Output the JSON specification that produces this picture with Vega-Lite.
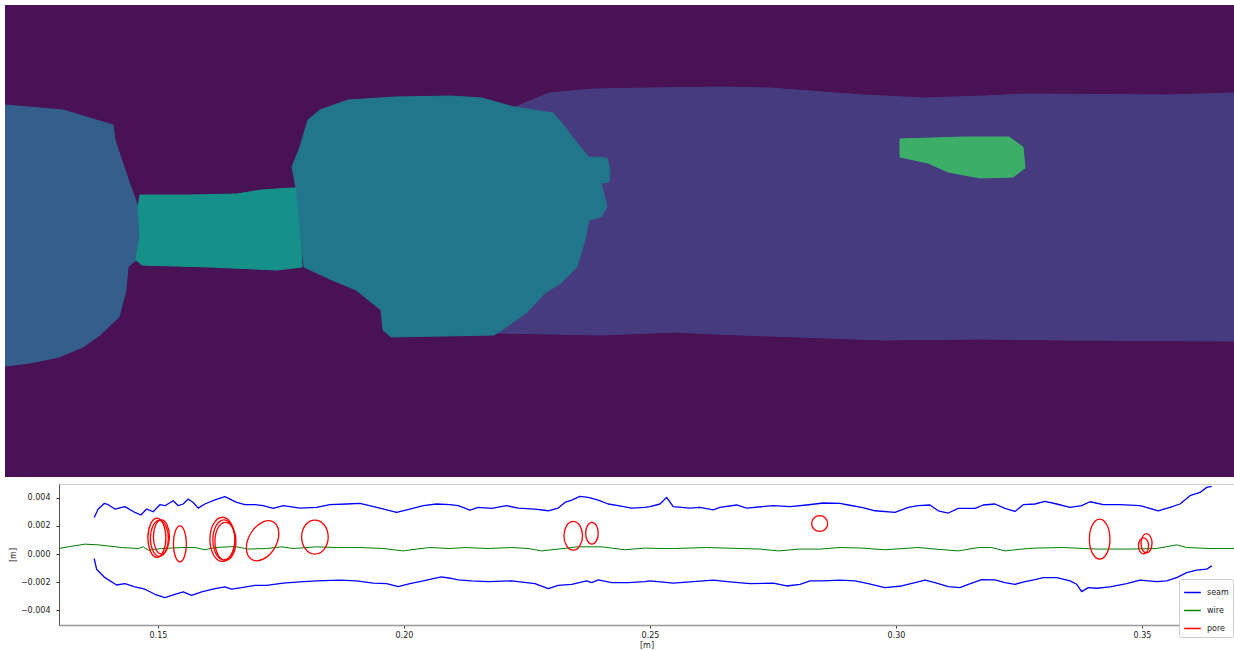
{
"$schema": "https://vega.github.io/schema/vega-lite/v6.json",
"background": "white",
"padding": {"left": 5, "top": 5, "right": 0, "bottom": 0},
"config": {"font": "DejaVu Sans", "view": {"stroke": null}, "line": {"strokeJoin": "round"}},
"columns": 1,
"spacing": 6,
"resolve": {"scale": {"x": "independent", "y": "independent", "color": "independent"}},
"datasets": {
"regions": [
{"r":"bg","i":0,"px":5,"py":5},{"r":"bg","i":1,"px":1234,"py":5},{"r":"bg","i":2,"px":1234,"py":477},{"r":"bg","i":3,"px":5,"py":477},
{"r":"band","i":0,"px":508,"py":110},{"r":"band","i":1,"px":549,"py":93},{"r":"band","i":2,"px":593,"py":89},{"r":"band","i":3,"px":650,"py":88},{"r":"band","i":4,"px":721,"py":87},{"r":"band","i":5,"px":770,"py":88},{"r":"band","i":6,"px":863,"py":95},{"r":"band","i":7,"px":924,"py":98},{"r":"band","i":8,"px":985,"py":96},{"r":"band","i":9,"px":1025,"py":94},{"r":"band","i":10,"px":1167,"py":95},{"r":"band","i":11,"px":1234,"py":93},{"r":"band","i":12,"px":1234,"py":341},{"r":"band","i":13,"px":1065,"py":340},{"r":"band","i":14,"px":980,"py":339},{"r":"band","i":15,"px":883,"py":340},{"r":"band","i":16,"px":713,"py":334},{"r":"band","i":17,"px":677,"py":332},{"r":"band","i":18,"px":600,"py":335},{"r":"band","i":19,"px":498,"py":333},
{"r":"left","i":0,"px":5.5,"py":105},{"r":"left","i":1,"px":63,"py":110},{"r":"left","i":2,"px":113,"py":125},{"r":"left","i":3,"px":115,"py":140},{"r":"left","i":4,"px":126,"py":173},{"r":"left","i":5,"px":138,"py":207},{"r":"left","i":6,"px":140,"py":235},{"r":"left","i":7,"px":136,"py":260},{"r":"left","i":8,"px":128,"py":267},{"r":"left","i":9,"px":126,"py":290},{"r":"left","i":10,"px":119,"py":317},{"r":"left","i":11,"px":100,"py":335},{"r":"left","i":12,"px":83,"py":347},{"r":"left","i":13,"px":59,"py":357},{"r":"left","i":14,"px":30,"py":363},{"r":"left","i":15,"px":5.5,"py":366},
{"r":"rect","i":0,"px":138,"py":207},{"r":"rect","i":1,"px":140,"py":195},{"r":"rect","i":2,"px":190,"py":195},{"r":"rect","i":3,"px":237,"py":194},{"r":"rect","i":4,"px":261,"py":190},{"r":"rect","i":5,"px":292,"py":188},{"r":"rect","i":6,"px":297,"py":188},{"r":"rect","i":7,"px":299,"py":200},{"r":"rect","i":8,"px":302,"py":267},{"r":"rect","i":9,"px":277,"py":270},{"r":"rect","i":10,"px":209,"py":267},{"r":"rect","i":11,"px":142,"py":265},{"r":"rect","i":12,"px":136,"py":260},{"r":"rect","i":13,"px":140,"py":235},
{"r":"mid","i":0,"px":308,"py":120},{"r":"mid","i":1,"px":320,"py":110},{"r":"mid","i":2,"px":348,"py":100},{"r":"mid","i":3,"px":395,"py":97},{"r":"mid","i":4,"px":451,"py":96},{"r":"mid","i":5,"px":482,"py":98},{"r":"mid","i":6,"px":514,"py":107},{"r":"mid","i":7,"px":553,"py":113},{"r":"mid","i":8,"px":565,"py":127},{"r":"mid","i":9,"px":577,"py":143},{"r":"mid","i":10,"px":589,"py":157},{"r":"mid","i":11,"px":607,"py":158},{"r":"mid","i":12,"px":610,"py":170},{"r":"mid","i":13,"px":609,"py":182},{"r":"mid","i":14,"px":601,"py":183},{"r":"mid","i":15,"px":607,"py":207},{"r":"mid","i":16,"px":601,"py":217},{"r":"mid","i":17,"px":589,"py":220},{"r":"mid","i":18,"px":585,"py":240},{"r":"mid","i":19,"px":577,"py":267},{"r":"mid","i":20,"px":561,"py":283},{"r":"mid","i":21,"px":545,"py":293},{"r":"mid","i":22,"px":526,"py":313},{"r":"mid","i":23,"px":502,"py":330},{"r":"mid","i":24,"px":494,"py":335},{"r":"mid","i":25,"px":391,"py":337},{"r":"mid","i":26,"px":383,"py":330},{"r":"mid","i":27,"px":381,"py":310},{"r":"mid","i":28,"px":371,"py":302},{"r":"mid","i":29,"px":356,"py":290},{"r":"mid","i":30,"px":332,"py":280},{"r":"mid","i":31,"px":304,"py":267},{"r":"mid","i":32,"px":300,"py":230},{"r":"mid","i":33,"px":297,"py":193},{"r":"mid","i":34,"px":292,"py":167},{"r":"mid","i":35,"px":300,"py":147},
{"r":"small","i":0,"px":900,"py":139},{"r":"small","i":1,"px":964,"py":137},{"r":"small","i":2,"px":1009,"py":137},{"r":"small","i":3,"px":1023,"py":147},{"r":"small","i":4,"px":1025,"py":168},{"r":"small","i":5,"px":1013,"py":177},{"r":"small","i":6,"px":980,"py":178},{"r":"small","i":7,"px":948,"py":172},{"r":"small","i":8,"px":928,"py":163},{"r":"small","i":9,"px":900,"py":157}
],
"seam": [
{"p":"u","x":0.13705,"y":0.0026},{"p":"u","x":0.13787,"y":0.0032},{"p":"u","x":0.13909,"y":0.0036},{"p":"u","x":0.1399,"y":0.00351},{"p":"u","x":0.14126,"y":0.0032},{"p":"u","x":0.14329,"y":0.00337},{"p":"u","x":0.14533,"y":0.00296},{"p":"u","x":0.14654,"y":0.00278},{"p":"u","x":0.1477,"y":0.0032},{"p":"u","x":0.14904,"y":0.00301},{"p":"u","x":0.15041,"y":0.00351},{"p":"u","x":0.15142,"y":0.00344},{"p":"u","x":0.15311,"y":0.00379},{"p":"u","x":0.15413,"y":0.00344},{"p":"u","x":0.15514,"y":0.00356},{"p":"u","x":0.15616,"y":0.00391},{"p":"u","x":0.15717,"y":0.00367},{"p":"u","x":0.15819,"y":0.00327},{"p":"u","x":0.15955,"y":0.00356},{"p":"u","x":0.16159,"y":0.00386},{"p":"u","x":0.16362,"y":0.00408},{"p":"u","x":0.166,"y":0.00367},{"p":"u","x":0.16768,"y":0.00351},{"p":"u","x":0.16972,"y":0.00351},{"p":"u","x":0.1714,"y":0.00344},{"p":"u","x":0.17343,"y":0.00325},{"p":"u","x":0.17547,"y":0.00344},{"p":"u","x":0.17886,"y":0.00327},{"p":"u","x":0.18226,"y":0.00332},{"p":"u","x":0.18496,"y":0.00351},{"p":"u","x":0.18835,"y":0.00356},{"p":"u","x":0.19106,"y":0.0036},{"p":"u","x":0.19445,"y":0.00332},{"p":"u","x":0.19852,"y":0.00296},{"p":"u","x":0.20122,"y":0.0032},{"p":"u","x":0.20392,"y":0.00344},{"p":"u","x":0.20665,"y":0.00356},{"p":"u","x":0.20935,"y":0.00351},{"p":"u","x":0.21104,"y":0.00344},{"p":"u","x":0.21341,"y":0.00313},{"p":"u","x":0.2151,"y":0.00332},{"p":"u","x":0.21783,"y":0.00325},{"p":"u","x":0.22087,"y":0.00344},{"p":"u","x":0.22323,"y":0.00327},{"p":"u","x":0.22663,"y":0.0032},{"p":"u","x":0.22933,"y":0.00308},{"p":"u","x":0.23136,"y":0.00327},{"p":"u","x":0.23272,"y":0.00367},{"p":"u","x":0.23409,"y":0.00384},{"p":"u","x":0.23577,"y":0.0041},{"p":"u","x":0.23746,"y":0.00403},{"p":"u","x":0.23949,"y":0.00384},{"p":"u","x":0.24152,"y":0.00356},{"p":"u","x":0.24356,"y":0.00344},{"p":"u","x":0.24628,"y":0.00327},{"p":"u","x":0.24898,"y":0.00332},{"p":"u","x":0.25,"y":0.00337},{"p":"u","x":0.25203,"y":0.00356},{"p":"u","x":0.25339,"y":0.00403},{"p":"u","x":0.25473,"y":0.00337},{"p":"u","x":0.25813,"y":0.00327},{"p":"u","x":0.26016,"y":0.00332},{"p":"u","x":0.26286,"y":0.00315},{"p":"u","x":0.26423,"y":0.00332},{"p":"u","x":0.26762,"y":0.00349},{"p":"u","x":0.26965,"y":0.00327},{"p":"u","x":0.27506,"y":0.00344},{"p":"u","x":0.27846,"y":0.00337},{"p":"u","x":0.28185,"y":0.00349},{"p":"u","x":0.28522,"y":0.00363},{"p":"u","x":0.28862,"y":0.0036},{"p":"u","x":0.2903,"y":0.00349},{"p":"u","x":0.29303,"y":0.00332},{"p":"u","x":0.29573,"y":0.00308},{"p":"u","x":0.2998,"y":0.00296},{"p":"u","x":0.3025,"y":0.00332},{"p":"u","x":0.30453,"y":0.00344},{"p":"u","x":0.30691,"y":0.00349},{"p":"u","x":0.3086,"y":0.00308},{"p":"u","x":0.31063,"y":0.00292},{"p":"u","x":0.31266,"y":0.00325},{"p":"u","x":0.31606,"y":0.00325},{"p":"u","x":0.31774,"y":0.00349},{"p":"u","x":0.32012,"y":0.00356},{"p":"u","x":0.32215,"y":0.00325},{"p":"u","x":0.32419,"y":0.00303},{"p":"u","x":0.32587,"y":0.00351},{"p":"u","x":0.32825,"y":0.00356},{"p":"u","x":0.33028,"y":0.00374},{"p":"u","x":0.33266,"y":0.00356},{"p":"u","x":0.33537,"y":0.00332},{"p":"u","x":0.33774,"y":0.00344},{"p":"u","x":0.33943,"y":0.00372},{"p":"u","x":0.34213,"y":0.00351},{"p":"u","x":0.34553,"y":0.00351},{"p":"u","x":0.34959,"y":0.00344},{"p":"u","x":0.35331,"y":0.00308},{"p":"u","x":0.35569,"y":0.00332},{"p":"u","x":0.35772,"y":0.00356},{"p":"u","x":0.35976,"y":0.00415},{"p":"u","x":0.36179,"y":0.00438},{"p":"u","x":0.36315,"y":0.00474},{"p":"u","x":0.36417,"y":0.00481},
{"p":"l","x":0.13705,"y":-0.00031},{"p":"l","x":0.13754,"y":-0.00107},{"p":"l","x":0.13923,"y":-0.00167},{"p":"l","x":0.14161,"y":-0.00219},{"p":"l","x":0.14329,"y":-0.00209},{"p":"l","x":0.14533,"y":-0.00233},{"p":"l","x":0.14736,"y":-0.00249},{"p":"l","x":0.14939,"y":-0.00285},{"p":"l","x":0.15142,"y":-0.00309},{"p":"l","x":0.15346,"y":-0.00285},{"p":"l","x":0.15514,"y":-0.00268},{"p":"l","x":0.15685,"y":-0.00292},{"p":"l","x":0.15888,"y":-0.00268},{"p":"l","x":0.16159,"y":-0.00245},{"p":"l","x":0.16362,"y":-0.00233},{"p":"l","x":0.16498,"y":-0.00249},{"p":"l","x":0.16701,"y":-0.00238},{"p":"l","x":0.16972,"y":-0.00221},{"p":"l","x":0.17209,"y":-0.00221},{"p":"l","x":0.17547,"y":-0.00206},{"p":"l","x":0.17886,"y":-0.00197},{"p":"l","x":0.18226,"y":-0.0019},{"p":"l","x":0.18699,"y":-0.00185},{"p":"l","x":0.19039,"y":-0.0019},{"p":"l","x":0.19376,"y":-0.00206},{"p":"l","x":0.19648,"y":-0.00209},{"p":"l","x":0.19884,"y":-0.00231},{"p":"l","x":0.20122,"y":-0.00209},{"p":"l","x":0.20392,"y":-0.0019},{"p":"l","x":0.20596,"y":-0.00174},{"p":"l","x":0.20766,"y":-0.00162},{"p":"l","x":0.20935,"y":-0.00171},{"p":"l","x":0.21104,"y":-0.00183},{"p":"l","x":0.21376,"y":-0.0019},{"p":"l","x":0.21713,"y":-0.00195},{"p":"l","x":0.22189,"y":-0.0019},{"p":"l","x":0.22663,"y":-0.00209},{"p":"l","x":0.22933,"y":-0.00245},{"p":"l","x":0.23136,"y":-0.00221},{"p":"l","x":0.23409,"y":-0.00214},{"p":"l","x":0.23713,"y":-0.0019},{"p":"l","x":0.23815,"y":-0.00202},{"p":"l","x":0.23949,"y":-0.00183},{"p":"l","x":0.24222,"y":-0.00202},{"p":"l","x":0.24559,"y":-0.00202},{"p":"l","x":0.24898,"y":-0.00195},{"p":"l","x":0.25,"y":-0.0019},{"p":"l","x":0.25474,"y":-0.00206},{"p":"l","x":0.25813,"y":-0.00197},{"p":"l","x":0.26287,"y":-0.00185},{"p":"l","x":0.26626,"y":-0.00197},{"p":"l","x":0.27033,"y":-0.00209},{"p":"l","x":0.27506,"y":-0.00206},{"p":"l","x":0.27778,"y":-0.00226},{"p":"l","x":0.28049,"y":-0.00214},{"p":"l","x":0.28252,"y":-0.0019},{"p":"l","x":0.28522,"y":-0.0019},{"p":"l","x":0.28862,"y":-0.00185},{"p":"l","x":0.29167,"y":-0.0019},{"p":"l","x":0.29437,"y":-0.00209},{"p":"l","x":0.29776,"y":-0.00238},{"p":"l","x":0.30116,"y":-0.00226},{"p":"l","x":0.30386,"y":-0.00202},{"p":"l","x":0.30589,"y":-0.00185},{"p":"l","x":0.30793,"y":-0.00202},{"p":"l","x":0.31063,"y":-0.00231},{"p":"l","x":0.31301,"y":-0.00238},{"p":"l","x":0.3147,"y":-0.00214},{"p":"l","x":0.31742,"y":-0.00181},{"p":"l","x":0.32012,"y":-0.00183},{"p":"l","x":0.32215,"y":-0.00202},{"p":"l","x":0.32419,"y":-0.00214},{"p":"l","x":0.32622,"y":-0.00195},{"p":"l","x":0.32825,"y":-0.00181},{"p":"l","x":0.32994,"y":-0.00167},{"p":"l","x":0.33266,"y":-0.00167},{"p":"l","x":0.33537,"y":-0.0019},{"p":"l","x":0.33673,"y":-0.00214},{"p":"l","x":0.33774,"y":-0.00266},{"p":"l","x":0.33909,"y":-0.00238},{"p":"l","x":0.34079,"y":-0.00242},{"p":"l","x":0.3435,"y":-0.00233},{"p":"l","x":0.34689,"y":-0.00209},{"p":"l","x":0.34959,"y":-0.00185},{"p":"l","x":0.35299,"y":-0.00195},{"p":"l","x":0.35502,"y":-0.0019},{"p":"l","x":0.35705,"y":-0.00167},{"p":"l","x":0.35909,"y":-0.00131},{"p":"l","x":0.36112,"y":-0.00114},{"p":"l","x":0.36315,"y":-0.00107},{"p":"l","x":0.36417,"y":-0.00083}
],
"wire": [
{"x":0.12988,"y":0.0004},{"x":0.13177,"y":0.00052},{"x":0.13516,"y":0.00071},{"x":0.13787,"y":0.00066},{"x":0.14262,"y":0.00047},{"x":0.146,"y":0.0004},{"x":0.14701,"y":0.00052},{"x":0.14803,"y":0.00028},{"x":0.15075,"y":0.0004},{"x":0.15482,"y":0.00047},{"x":0.15752,"y":0.00047},{"x":0.15955,"y":0.00031},{"x":0.16159,"y":0.00047},{"x":0.16565,"y":0.00054},{"x":0.16835,"y":0.00036},{"x":0.17209,"y":0.0004},{"x":0.17514,"y":0.00052},{"x":0.1775,"y":0.0004},{"x":0.18226,"y":0.00052},{"x":0.18632,"y":0.00047},{"x":0.19106,"y":0.00047},{"x":0.19579,"y":0.0004},{"x":0.19986,"y":0.00023},{"x":0.20258,"y":0.00036},{"x":0.20528,"y":0.00047},{"x":0.20935,"y":0.0004},{"x":0.2124,"y":0.00047},{"x":0.21713,"y":0.0004},{"x":0.22189,"y":0.00047},{"x":0.22526,"y":0.0004},{"x":0.22799,"y":0.00023},{"x":0.23136,"y":0.00036},{"x":0.23543,"y":0.00052},{"x":0.24018,"y":0.00052},{"x":0.24492,"y":0.00031},{"x":0.24898,"y":0.00043},{"x":0.25203,"y":0.0004},{"x":0.25474,"y":0.0004},{"x":0.26152,"y":0.00047},{"x":0.26829,"y":0.0004},{"x":0.27236,"y":0.00036},{"x":0.27608,"y":0.00023},{"x":0.28049,"y":0.00036},{"x":0.28455,"y":0.00036},{"x":0.28862,"y":0.00047},{"x":0.29303,"y":0.00043},{"x":0.29776,"y":0.00031},{"x":0.30453,"y":0.00047},{"x":0.30793,"y":0.00036},{"x":0.31266,"y":0.00023},{"x":0.31673,"y":0.00047},{"x":0.31945,"y":0.00047},{"x":0.32215,"y":0.00023},{"x":0.32555,"y":0.00036},{"x":0.32825,"y":0.00043},{"x":0.334,"y":0.00047},{"x":0.34079,"y":0.00036},{"x":0.34756,"y":0.00036},{"x":0.35299,"y":0.0004},{"x":0.35705,"y":0.00066},{"x":0.35909,"y":0.00047},{"x":0.36382,"y":0.0004},{"x":0.3687,"y":0.0004}
],
"pores": [
{"p":"P1","i":0,"x":0.15163,"y":0.00116},{"p":"P1","i":1,"x":0.15109,"y":0.00214},{"p":"P1","i":2,"x":0.1498,"y":0.00255},{"p":"P1","i":3,"x":0.14851,"y":0.00214},{"p":"P1","i":4,"x":0.14797,"y":0.00116},{"p":"P1","i":5,"x":0.14851,"y":0.00018},{"p":"P1","i":6,"x":0.1498,"y":-0.00023},{"p":"P1","i":7,"x":0.15109,"y":0.00018},
{"p":"P2","i":0,"x":0.15213,"y":0.00112},{"p":"P2","i":1,"x":0.15159,"y":0.00202},{"p":"P2","i":2,"x":0.1503,"y":0.0024},{"p":"P2","i":3,"x":0.14901,"y":0.00202},{"p":"P2","i":4,"x":0.14847,"y":0.00112},{"p":"P2","i":5,"x":0.14901,"y":0.00022},{"p":"P2","i":6,"x":0.1503,"y":-0.00016},{"p":"P2","i":7,"x":0.15159,"y":0.00022},
{"p":"P3","i":0,"x":0.15234,"y":0.00123},{"p":"P3","i":1,"x":0.15186,"y":0.00209},{"p":"P3","i":2,"x":0.15071,"y":0.00244},{"p":"P3","i":3,"x":0.14956,"y":0.00209},{"p":"P3","i":4,"x":0.14908,"y":0.00123},{"p":"P3","i":5,"x":0.14956,"y":0.00037},{"p":"P3","i":6,"x":0.15071,"y":0.00002},{"p":"P3","i":7,"x":0.15186,"y":0.00037},
{"p":"P4","i":0,"x":0.15579,"y":0.00073},{"p":"P4","i":1,"x":0.1554,"y":0.00163},{"p":"P4","i":2,"x":0.15447,"y":0.00201},{"p":"P4","i":3,"x":0.15354,"y":0.00163},{"p":"P4","i":4,"x":0.15315,"y":0.00073},{"p":"P4","i":5,"x":0.15354,"y":-0.00017},{"p":"P4","i":6,"x":0.15447,"y":-0.00055},{"p":"P4","i":7,"x":0.1554,"y":-0.00017},
{"p":"P5","i":0,"x":0.16565,"y":0.00105},{"p":"P5","i":1,"x":0.16491,"y":0.00216},{"p":"P5","i":2,"x":0.16311,"y":0.00262},{"p":"P5","i":3,"x":0.16131,"y":0.00216},{"p":"P5","i":4,"x":0.16057,"y":0.00105},{"p":"P5","i":5,"x":0.16131,"y":-0.00006},{"p":"P5","i":6,"x":0.16311,"y":-0.00052},{"p":"P5","i":7,"x":0.16491,"y":-0.00006},
{"p":"P6","i":0,"x":0.16585,"y":0.00091},{"p":"P6","i":1,"x":0.16523,"y":0.00186},{"p":"P6","i":2,"x":0.16372,"y":0.00226},{"p":"P6","i":3,"x":0.16221,"y":0.00186},{"p":"P6","i":4,"x":0.16159,"y":0.00091},{"p":"P6","i":5,"x":0.16221,"y":-0.00004},{"p":"P6","i":6,"x":0.16372,"y":-0.00044},{"p":"P6","i":7,"x":0.16523,"y":-0.00004},
{"p":"P7","i":0,"x":0.16565,"y":0.00102},{"p":"P7","i":1,"x":0.16499,"y":0.00202},{"p":"P7","i":2,"x":0.16341,"y":0.00244},{"p":"P7","i":3,"x":0.16183,"y":0.00202},{"p":"P7","i":4,"x":0.16117,"y":0.00102},{"p":"P7","i":5,"x":0.16183,"y":0.00002},{"p":"P7","i":6,"x":0.16341,"y":-0.0004},{"p":"P7","i":7,"x":0.16499,"y":0.00002},
{"p":"P8","i":0,"x":0.17347,"y":0.00228},{"p":"P8","i":1,"x":0.17108,"y":0.00224},{"p":"P8","i":2,"x":0.16882,"y":0.00145},{"p":"P8","i":3,"x":0.16799,"y":0.00037},{"p":"P8","i":4,"x":0.1691,"y":-0.00038},{"p":"P8","i":5,"x":0.17148,"y":-0.00034},{"p":"P8","i":6,"x":0.17374,"y":0.00045},{"p":"P8","i":7,"x":0.17457,"y":0.00153},
{"p":"P9","i":0,"x":0.18461,"y":0.00121},{"p":"P9","i":1,"x":0.18382,"y":0.00207},{"p":"P9","i":2,"x":0.18191,"y":0.00242},{"p":"P9","i":3,"x":0.18,"y":0.00207},{"p":"P9","i":4,"x":0.17921,"y":0.00121},{"p":"P9","i":5,"x":0.18,"y":0.00035},{"p":"P9","i":6,"x":0.18191,"y":0.0},{"p":"P9","i":7,"x":0.18382,"y":0.00035},
{"p":"P10","i":0,"x":0.2363,"y":0.0013},{"p":"P10","i":1,"x":0.23575,"y":0.00202},{"p":"P10","i":2,"x":0.23441,"y":0.00232},{"p":"P10","i":3,"x":0.23307,"y":0.00202},{"p":"P10","i":4,"x":0.23252,"y":0.0013},{"p":"P10","i":5,"x":0.23307,"y":0.00058},{"p":"P10","i":6,"x":0.23441,"y":0.00028},{"p":"P10","i":7,"x":0.23575,"y":0.00058},
{"p":"P11","i":0,"x":0.23949,"y":0.00148},{"p":"P11","i":1,"x":0.23911,"y":0.00202},{"p":"P11","i":2,"x":0.23821,"y":0.00225},{"p":"P11","i":3,"x":0.23731,"y":0.00202},{"p":"P11","i":4,"x":0.23693,"y":0.00148},{"p":"P11","i":5,"x":0.23731,"y":0.00094},{"p":"P11","i":6,"x":0.23821,"y":0.00071},{"p":"P11","i":7,"x":0.23911,"y":0.00094},
{"p":"P12","i":0,"x":0.28612,"y":0.00217},{"p":"P12","i":1,"x":0.28564,"y":0.00257},{"p":"P12","i":2,"x":0.28449,"y":0.00273},{"p":"P12","i":3,"x":0.28334,"y":0.00257},{"p":"P12","i":4,"x":0.28286,"y":0.00217},{"p":"P12","i":5,"x":0.28334,"y":0.00177},{"p":"P12","i":6,"x":0.28449,"y":0.00161},{"p":"P12","i":7,"x":0.28564,"y":0.00177},
{"p":"P13","i":0,"x":0.34349,"y":0.00107},{"p":"P13","i":1,"x":0.34288,"y":0.00207},{"p":"P13","i":2,"x":0.3414,"y":0.00249},{"p":"P13","i":3,"x":0.33992,"y":0.00207},{"p":"P13","i":4,"x":0.33931,"y":0.00107},{"p":"P13","i":5,"x":0.33992,"y":0.00007},{"p":"P13","i":6,"x":0.3414,"y":-0.00035},{"p":"P13","i":7,"x":0.34288,"y":0.00007},
{"p":"P14","i":0,"x":0.35133,"y":0.00059},{"p":"P14","i":1,"x":0.35103,"y":0.00099},{"p":"P14","i":2,"x":0.35031,"y":0.00116},{"p":"P14","i":3,"x":0.34959,"y":0.00099},{"p":"P14","i":4,"x":0.34929,"y":0.00059},{"p":"P14","i":5,"x":0.34959,"y":0.00019},{"p":"P14","i":6,"x":0.35031,"y":0.00002},{"p":"P14","i":7,"x":0.35103,"y":0.00019},
{"p":"P15","i":0,"x":0.35204,"y":0.00077},{"p":"P15","i":1,"x":0.35171,"y":0.00125},{"p":"P15","i":2,"x":0.35092,"y":0.00145},{"p":"P15","i":3,"x":0.35013,"y":0.00125},{"p":"P15","i":4,"x":0.3498,"y":0.00077},{"p":"P15","i":5,"x":0.35013,"y":0.00029},{"p":"P15","i":6,"x":0.35092,"y":0.00009},{"p":"P15","i":7,"x":0.35171,"y":0.00029}
]
},
"concat": [
{
"width": 1175, "height": 472,
"view": {"stroke": null},
"data": {"name": "regions"},
"encoding": {
"x": {"field": "px", "type": "quantitative", "scale": {"domain": [59, 1234], "nice": false, "zero": false}, "axis": null},
"y": {"field": "py", "type": "quantitative", "scale": {"domain": [5, 477], "nice": false, "zero": false, "reverse": true}, "axis": null},
"order": {"field": "i", "type": "quantitative"}
},
"layer": [
{"transform": [{"filter": "datum.r === 'bg'"}], "mark": {"type": "line", "filled": true, "interpolate": "linear-closed", "fill": "#481254", "stroke": null, "strokeWidth": 0, "clip": false}},
{"transform": [{"filter": "datum.r === 'band'"}], "mark": {"type": "line", "filled": true, "interpolate": "linear-closed", "fill": "#473b7f", "stroke": "#473b7f", "strokeWidth": 1, "strokeJoin": "round"}},
{"transform": [{"filter": "datum.r === 'left'"}], "mark": {"type": "line", "filled": true, "interpolate": "linear-closed", "fill": "#345f8d", "stroke": "#345f8d", "strokeWidth": 1, "strokeJoin": "round"}},
{"transform": [{"filter": "datum.r === 'rect'"}], "mark": {"type": "line", "filled": true, "interpolate": "linear-closed", "fill": "#16918a", "stroke": "#16918a", "strokeWidth": 1, "strokeJoin": "round"}},
{"transform": [{"filter": "datum.r === 'mid'"}], "mark": {"type": "line", "filled": true, "interpolate": "linear-closed", "fill": "#21768b", "stroke": "#21768b", "strokeWidth": 1, "strokeJoin": "round"}},
{"transform": [{"filter": "datum.r === 'small'"}], "mark": {"type": "line", "filled": true, "interpolate": "linear-closed", "fill": "#3cae68", "stroke": "#3cae68", "strokeWidth": 1, "strokeJoin": "round"}}
]
},
{
"width": 1175, "height": 141,
"view": {"stroke": "#cccccc"},
"encoding": {
"x": {"field": "x", "type": "quantitative", "scale": {"domain": [0.1299, 0.3687], "nice": false, "zero": false},
  "axis": {"values": [0.15, 0.2, 0.25, 0.3, 0.35], "format": ".2f", "title": "[m]", "grid": false, "tickSize": 3, "tickColor": "#333", "domainColor": "#999", "domainWidth": 1.5, "labelFontSize": 8, "labelColor": "#222", "labelPadding": 3, "titleFontSize": 8, "titleFontWeight": "normal", "titleColor": "#222", "titlePadding": 2}},
"y": {"field": "y", "type": "quantitative", "scale": {"domain": [-0.00503, 0.00498], "nice": false, "zero": false},
  "axis": {"values": [-0.004, -0.002, 0, 0.002, 0.004], "format": ".3f", "title": "[m]", "grid": false, "tickSize": 3, "tickColor": "#333", "domainColor": "#555", "labelFontSize": 8, "labelColor": "#222", "labelPadding": 6, "titleFontSize": 8, "titleFontWeight": "normal", "titleColor": "#222", "titlePadding": 3}}
},
"layer": [
{"data": {"name": "seam"}, "mark": {"type": "line", "strokeWidth": 1.3, "clip": true},
 "encoding": {"detail": {"field": "p"},
  "color": {"datum": "seam", "type": "nominal", "scale": {"domain": ["seam", "wire", "pore"], "range": ["#0000ff", "#008000", "#ff0000"]},
   "legend": {"title": null, "orient": "none", "legendX": 1120, "legendY": 95, "symbolType": "stroke", "symbolSize": 280, "symbolStrokeWidth": 1.5, "labelFontSize": 8, "labelColor": "#222", "fillColor": "white", "strokeColor": "#cccccc", "padding": 4, "cornerRadius": 2, "rowPadding": 4, "labelOffset": 5}}}},
{"data": {"name": "wire"}, "mark": {"type": "line", "strokeWidth": 1, "clip": true},
 "encoding": {"color": {"datum": "wire", "type": "nominal"}}},
{"data": {"name": "pores"}, "mark": {"type": "line", "strokeWidth": 1.3, "interpolate": "cardinal-closed", "clip": true},
 "encoding": {"detail": {"field": "p"}, "order": {"field": "i", "type": "quantitative"}, "color": {"datum": "pore", "type": "nominal"}}}
]
}
]
}
